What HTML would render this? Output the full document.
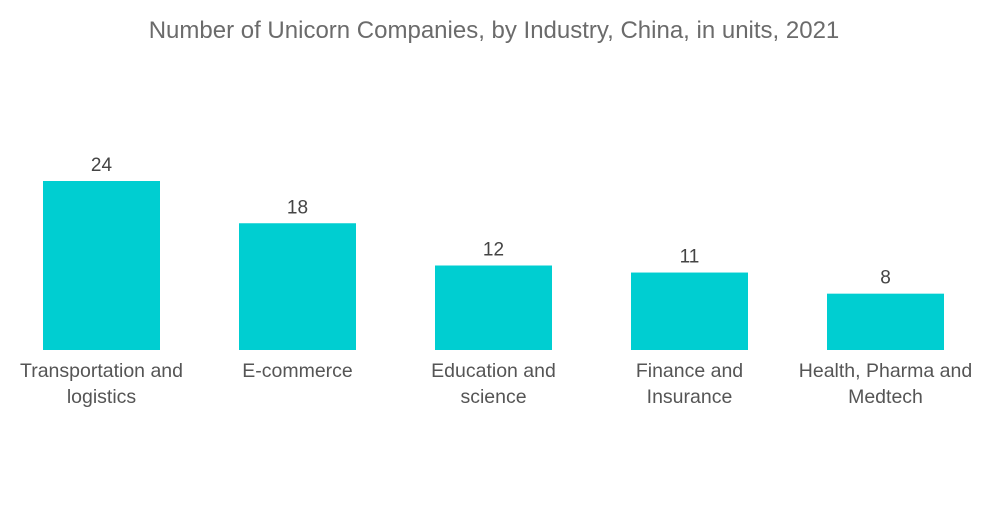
<!DOCTYPE html>
<html><head><meta charset="utf-8"><style>
body{margin:0;background:#fff;font-family:"Liberation Sans",sans-serif;}
</style></head><body>
<svg width="1000" height="504">
<text x="494" y="38" text-anchor="middle" font-size="24" fill="#6b6b6b">Number of Unicorn Companies, by Industry, China, in units, 2021</text>
<g id="bars"></g>
</svg>
<script>
const categories=[["Transportation and","logistics"],["E-commerce"],["Education and","science"],["Finance and","Insurance"],["Health, Pharma and","Medtech"]];
const values=[24,18,12,11,8];
const base=350, scale=169/24, x0=43, step=196, bw=117;
const y=v=>base-v*scale;
const g=document.getElementById('bars');
const ns='http://www.w3.org/2000/svg';
values.forEach((v,i)=>{
  const x=x0+i*step;
  const r=document.createElementNS(ns,'rect');
  r.setAttribute('x',x);r.setAttribute('y',y(v));r.setAttribute('width',bw);r.setAttribute('height',base-y(v));r.setAttribute('fill','#00ced1');
  
  
  g.appendChild(r);
  const t=document.createElementNS(ns,'text');
  t.setAttribute('x',x+bw/2);t.setAttribute('y',y(v)-10);t.setAttribute('text-anchor','middle');t.setAttribute('font-size','19');t.setAttribute('fill','#444');
  t.textContent=v;
  
  
  g.appendChild(t);
  categories[i].forEach((line,j)=>{
    const c=document.createElementNS(ns,'text');
    c.setAttribute('x',x+bw/2);c.setAttribute('y',377+j*26);c.setAttribute('text-anchor','middle');c.setAttribute('font-size','19.5');c.setAttribute('fill','#555');
    c.textContent=line;
    
    
    g.appendChild(c);
  });
});
</script>
</body></html>
